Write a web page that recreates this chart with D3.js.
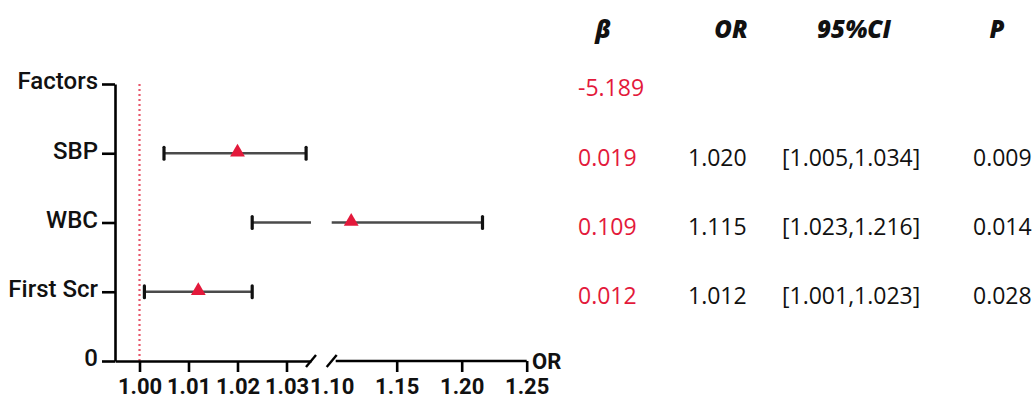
<!DOCTYPE html>
<html><head><meta charset="utf-8">
<script src="https://cdn.jsdelivr.net/npm/d3@7/dist/d3.min.js"></script>
<style>
html,body{margin:0;padding:0;background:#fff;}
svg{display:block;}
</style></head>
<body>
<svg id="chart" width="1035" height="401"></svg>
<script>
// ---- data ----
const factors = ["SBP", "WBC", "First Scr"];
const yTickLabels = ["0", "First Scr", "WBC", "SBP", "Factors"];
const interceptBeta = "-5.189";
const betaValues = ["0.019", "0.109", "0.012"];
const orValues = [1.020, 1.115, 1.012];
const ciLower = [1.005, 1.023, 1.001];
const ciUpper = [1.034, 1.216, 1.023];
const orText = ["1.020", "1.115", "1.012"];
const ciText = ["[1.005,1.034]", "[1.023,1.216]", "[1.001,1.023]"];
const pValues = ["0.009", "0.014", "0.028"];
const headers = ["β", "OR", "95%CI", "P"];
const xTicksLeft = [1.00, 1.01, 1.02, 1.03];
const xTicksRight = [1.10, 1.15, 1.20, 1.25];
const rowPos = [3, 2, 1]; // y positions of factors

// ---- layout ----
const svg = d3.select("#chart");
const RED = "#e3193b";
const x1 = d3.scaleLinear().domain([0.995, 1.035]).range([115, 311]);
const x2 = d3.scaleLinear().domain([1.10, 1.25]).range([331.7, 526.7]);
const y = d3.scaleLinear().domain([0, 4]).range([361, 84]);
const brk = 1.035;

// reference line at OR = 1
svg.append("line")
  .attr("x1", x1(1)).attr("x2", x1(1))
  .attr("y1", y(4)).attr("y2", y(0))
  .attr("stroke", "#e8566a").attr("stroke-width", 2.2)
  .attr("stroke-dasharray", "2,3").attr("stroke-linecap", "butt");

// axes
const axisFont = "Roboto, 'Liberation Sans', Arial, sans-serif";
const yAxis = d3.axisLeft(y).tickValues([0,1,2,3,4])
  .tickFormat((d,i) => yTickLabels[d]).tickSize(13).tickSizeOuter(0).tickPadding(4);
const gy = svg.append("g").attr("transform", "translate(115,0)").call(yAxis);
gy.selectAll("path,line").attr("stroke", "#000").attr("stroke-width", 2.6);
gy.selectAll("text").attr("font-family", axisFont).attr("font-size", 24)
  .attr("font-weight", 500).attr("fill", "#111").attr("dy", "0.2em");

const xa1 = d3.axisBottom(x1).tickValues(xTicksLeft).tickFormat(d3.format(".2f"))
  .tickSize(11).tickSizeOuter(0).tickPadding(6);
const gx1 = svg.append("g").attr("transform", `translate(0,${y(0)})`).call(xa1);
const xa2 = d3.axisBottom(x2).tickValues(xTicksRight).tickFormat(d3.format(".2f"))
  .tickSize(11).tickSizeOuter(0).tickPadding(6);
const gx2 = svg.append("g").attr("transform", `translate(0,${y(0)})`).call(xa2);
[gx1, gx2].forEach(g => {
  g.selectAll("path,line").attr("stroke", "#000").attr("stroke-width", 2.6);
  g.selectAll("text").attr("font-family", axisFont).attr("font-size", 22)
    .attr("font-weight", 700).attr("fill", "#111");
});
gx2.selectAll(".tick").filter(d => d === 1.10).select("line").remove();
gx2.select("path.domain").attr("d", `M${x2(1.10)+4},0H${x2(1.25)}`);

// axis break slashes
[x1.range()[1], x2.range()[0]].forEach(cx => {
  svg.append("line")
    .attr("x1", cx - 5).attr("y1", y(0) + 6)
    .attr("x2", cx + 5).attr("y2", y(0) - 6)
    .attr("stroke", "#000").attr("stroke-width", 2.4);
});

// OR axis title
svg.append("text").attr("x", 532).attr("y", y(0)).attr("dy", "0.36em")
  .attr("font-family", axisFont).attr("font-size", 22).attr("font-weight", 700)
  .attr("fill", "#111").text("OR");

// error bars
function segs(lo, hi) {
  if (hi <= brk) return [[x1(lo), x1(hi)]];
  if (lo >= x2.domain()[0]) return [[x2(lo), x2(hi)]];
  return [[x1(lo), x1.range()[1]], [x2.range()[0], x2(hi)]];
}
function xp(v) { return v <= brk ? x1(v) : x2(v); }

const gBars = svg.append("g");
factors.forEach((f, i) => {
  const yy = y(rowPos[i]);
  segs(ciLower[i], ciUpper[i]).forEach(s => {
    gBars.append("line").attr("x1", s[0]).attr("x2", s[1])
      .attr("y1", yy).attr("y2", yy)
      .attr("stroke", "#4a4a4a").attr("stroke-width", 2.6);
  });
  [ciLower[i], ciUpper[i]].forEach(v => {
    gBars.append("line").attr("x1", xp(v)).attr("x2", xp(v))
      .attr("y1", yy - 6).attr("y2", yy + 6)
      .attr("stroke", "#111").attr("stroke-width", 3.2).attr("stroke-linecap", "round");
  });
  const cx = xp(orValues[i]);
  gBars.append("path")
    .attr("d", d3.symbol().type(d3.symbolTriangle).size(95)())
    .attr("transform", `translate(${cx},${yy - 1})`)
    .attr("fill", RED);
});

// table
const tblFont = "'Open Sans', 'Noto Sans', sans-serif";
const headerX = [603, 731, 854, 997];
headers.forEach((h, i) => {
  svg.append("text").attr("x", headerX[i]).attr("y", 29).attr("dy", "0.36em")
    .attr("text-anchor", "middle").attr("font-family", tblFont)
    .attr("font-size", 24).attr("font-weight", 800).attr("font-style", "italic")
    .attr("fill", "#111").text(h);
});
const colX = [578, 688, 782, 973];
svg.append("text").attr("x", colX[0]).attr("y", y(4) + 4).attr("dy", "0.36em")
  .attr("font-family", tblFont).attr("font-size", 23).attr("fill", RED).text(interceptBeta);
factors.forEach((f, i) => {
  const yy = y(rowPos[i]) + 4;
  const cols = [betaValues[i], orText[i], ciText[i], pValues[i]];
  cols.forEach((t, j) => {
    svg.append("text").attr("x", colX[j]).attr("y", yy).attr("dy", "0.36em")
      .attr("font-family", tblFont).attr("font-size", 23)
      .attr("fill", j === 0 ? RED : "#111").text(t);
  });
});
</script>
</body></html>
